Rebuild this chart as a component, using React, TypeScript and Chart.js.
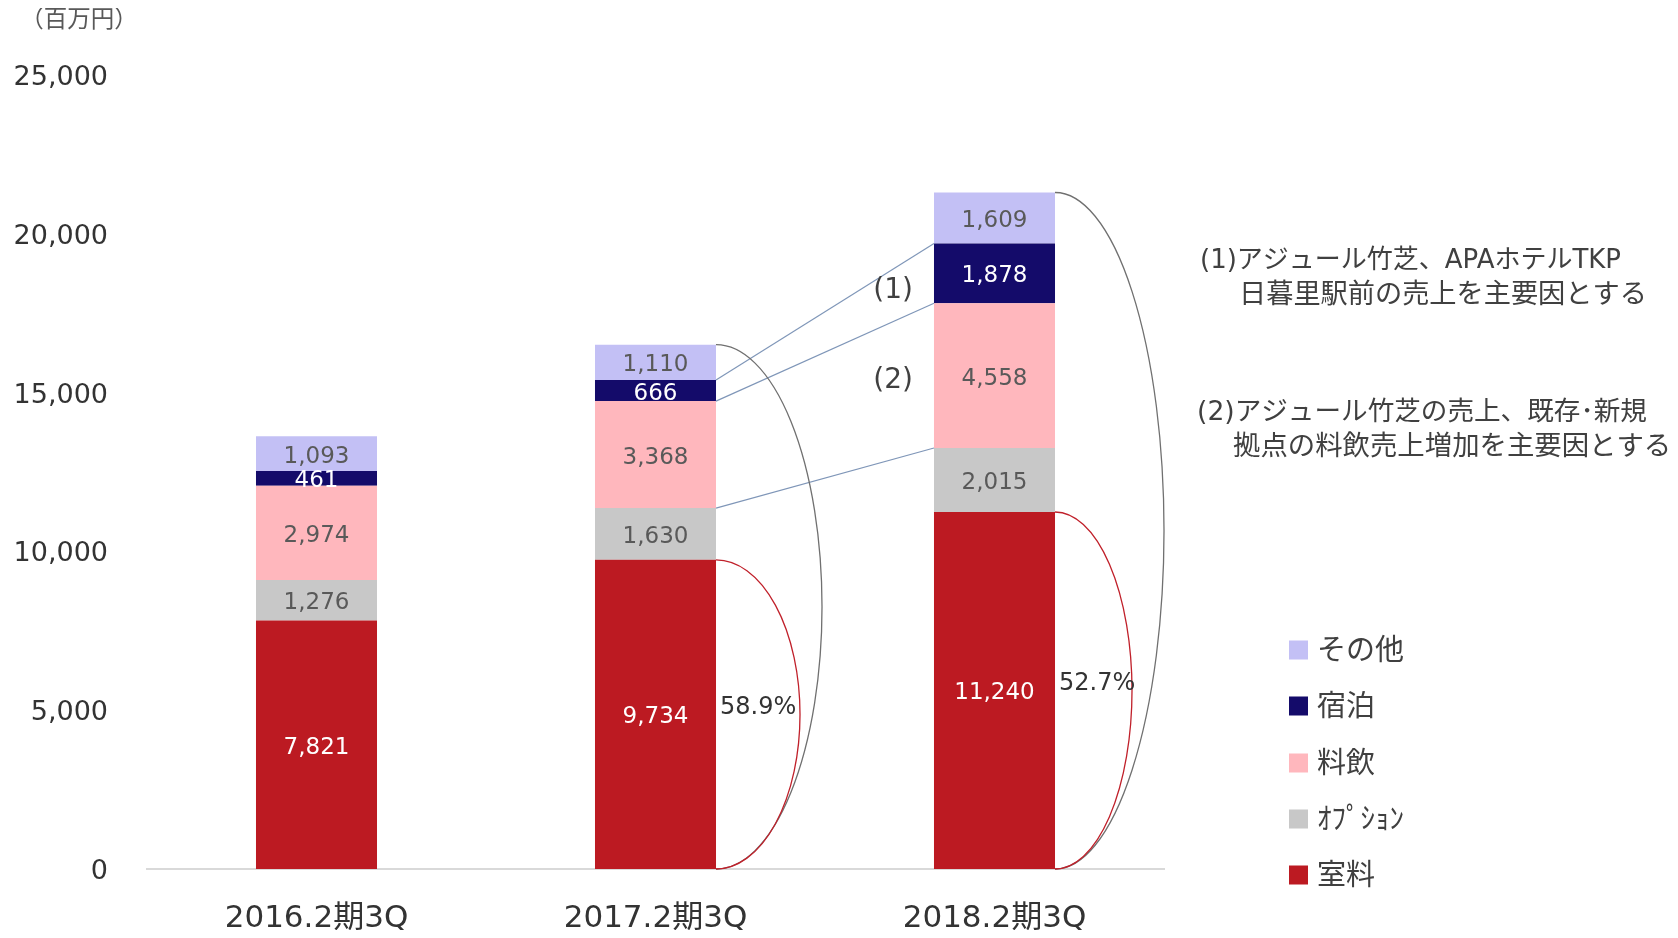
import React, { useEffect, useRef } from "react";
import { Chart, registerables } from "chart.js";

Chart.register(...registerables);

const categories = ["2016.2期3Q", "2017.2期3Q", "2018.2期3Q"];
const roomValues = [7821, 9734, 11240];
const optionValues = [1276, 1630, 2015];
const fbValues = [2974, 3368, 4558];
const stayValues = [461, 666, 1878];
const otherValues = [1093, 1110, 1609];
const roomShareLabels = ["", "58.9%", "52.7%"];
const yTickValues = [0, 5000, 10000, 15000, 20000, 25000];
const unitLabel = "（百万円）";
const noteLines = [
  "(1)アジュール竹芝、APAホテルTKP",
  "日暮里駅前の売上を主要因とする",
  "(2)アジュール竹芝の売上、既存･新規",
  "拠点の料飲売上増加を主要因とする",
];

const FONT = '"DejaVu Sans", "Noto Sans CJK JP", sans-serif';

const seriesDefs = [
  { label: "室料", data: roomValues, color: "#BC1A22", text: "#FFFFFF" },
  { label: "ｵﾌﾟｼｮﾝ", data: optionValues, color: "#C8C8C8", text: "#595959" },
  { label: "料飲", data: fbValues, color: "#FFB7BD", text: "#595959" },
  { label: "宿泊", data: stayValues, color: "#140B6A", text: "#FFFFFF" },
  { label: "その他", data: otherValues, color: "#C3C0F5", text: "#595959" },
];

const overlayPlugin = {
  id: "overlay",
  afterDatasetsDraw(chart: any) {
    const ctx = chart.ctx;
    const metas = seriesDefs.map((_, i) => chart.getDatasetMeta(i));
    const bar = (ds: number, j: number) =>
      metas[ds].data[j].getProps(["x", "y", "base", "width"], true);

    ctx.save();
    // segment labels
    ctx.font = `23px ${FONT}`;
    ctx.textAlign = "center";
    ctx.textBaseline = "middle";
    seriesDefs.forEach((s, i) => {
      s.data.forEach((v, j) => {
        const b = bar(i, j);
        ctx.fillStyle = s.text;
        ctx.fillText(v.toLocaleString("en-US"), b.x, (b.y + b.base) / 2 + 3);
      });
    });

    // connector lines between 2nd and 3rd bars
    const connectors: [number, "y" | "base"][] = [
      [3, "y"],
      [3, "base"],
      [1, "y"],
    ];
    ctx.strokeStyle = "#7F96B8";
    ctx.lineWidth = 1.2;
    connectors.forEach(([ds, edge]) => {
      const a = bar(ds, 1);
      const c = bar(ds, 2);
      ctx.beginPath();
      ctx.moveTo(a.x + a.width / 2, a[edge]);
      ctx.lineTo(c.x - c.width / 2, c[edge]);
      ctx.stroke();
    });

    // brackets
    const grayRx = [0, 106, 109];
    const redRx = [0, 84, 77];
    [1, 2].forEach((j) => {
      const top = bar(4, j);
      const room = bar(0, j);
      const x0 = room.x + room.width / 2;
      const base = room.base;
      ctx.lineWidth = 1.3;
      ctx.strokeStyle = "#707070";
      ctx.beginPath();
      ctx.ellipse(x0, (top.y + base) / 2, grayRx[j], (base - top.y) / 2, 0, -Math.PI / 2, Math.PI / 2);
      ctx.stroke();
      ctx.strokeStyle = "#C0202A";
      ctx.beginPath();
      ctx.ellipse(x0, (room.y + base) / 2, redRx[j], (base - room.y) / 2, 0, -Math.PI / 2, Math.PI / 2);
      ctx.stroke();
      ctx.fillStyle = "#333333";
      ctx.font = `24px ${FONT}`;
      ctx.textAlign = "left";
      ctx.fillText(roomShareLabels[j], x0 + 4, (room.y + base) / 2 - 7);
    });

    // (1), (2) markers
    const b3s = bar(3, 2);
    const b3f = bar(2, 2);
    ctx.font = `28px ${FONT}`;
    ctx.textAlign = "right";
    ctx.fillStyle = "#404040";
    ctx.fillText("(1)", b3s.x - b3s.width / 2 - 21, (b3s.y + b3s.base) / 2 + 17);
    ctx.fillText("(2)", b3f.x - b3f.width / 2 - 21, (b3f.y + b3f.base) / 2 + 5);

    // notes
    ctx.textAlign = "left";
    const notePos = [
      [1192, 253, 26],
      [1231, 288, 27.2],
      [1189, 405, 26.6],
      [1225, 440, 27.4],
    ];
    noteLines.forEach((t, i) => {
      ctx.font = `${notePos[i][2]}px ${FONT}`;
      ctx.fillText(t, notePos[i][0], notePos[i][1]);
    });

    // legend (reverse order)
    ctx.font = `29px ${FONT}`;
    const legendY = [642, 698, 755, 811, 867];
    [...seriesDefs].reverse().forEach((s, i) => {
      ctx.fillStyle = s.color;
      ctx.fillRect(1281, legendY[i] - 9.5, 19, 19);
      ctx.fillStyle = "#404040";
      ctx.fillText(s.label, 1309, legendY[i] + 2);
    });

    // unit
    ctx.font = `23.5px ${FONT}`;
    ctx.textAlign = "center";
    ctx.fillStyle = "#595959";
    ctx.fillText(unitLabel, 71, 13);
    ctx.restore();
  },
};

export default function App() {
  const ref = useRef<HTMLCanvasElement | null>(null);
  useEffect(() => {
    if (!ref.current) return;
    const chart = new Chart(ref.current, {
      type: "bar",
      data: {
        labels: categories,
        datasets: seriesDefs.map((s) => ({
          label: s.label,
          data: s.data,
          backgroundColor: s.color,
          borderWidth: 0,
          barPercentage: 0.357,
          categoryPercentage: 1,
        })),
      },
      options: {
        responsive: false,
        animation: false,
        layout: { padding: { left: 0, right: 506, top: 67, bottom: 0 } },
        plugins: { legend: { display: false }, tooltip: { enabled: false } },
        scales: {
          x: {
            stacked: true,
            grid: { display: false, drawTicks: false },
            border: { display: true, color: "#D9D9D9", width: 2 },
            ticks: { font: { family: FONT, size: 31 }, color: "#333333", padding: 31 },
            afterFit: (s: any) => {
              s.height = 69;
            },
          },
          y: {
            stacked: true,
            min: 0,
            max: 25000,
            grid: { display: false, drawTicks: false },
            border: { display: false },
            afterBuildTicks: (s: any) => {
              s.ticks = yTickValues.map((v) => ({ value: v }));
            },
            ticks: {
              font: { family: FONT, size: 27 },
              color: "#333333",
              padding: 39,
              labelOffset: 3,
              callback: (v: any) => Number(v).toLocaleString("en-US"),
            },
            afterFit: (s: any) => {
              s.width = 139;
            },
          },
        },
      },
      plugins: [overlayPlugin],
    });
    return () => chart.destroy();
  }, []);
  return (
    <div style={{ width: 1662, height: 922 }}>
      <canvas ref={ref} width={1662} height={930} style={{ display: "block" }} />
    </div>
  );
}
